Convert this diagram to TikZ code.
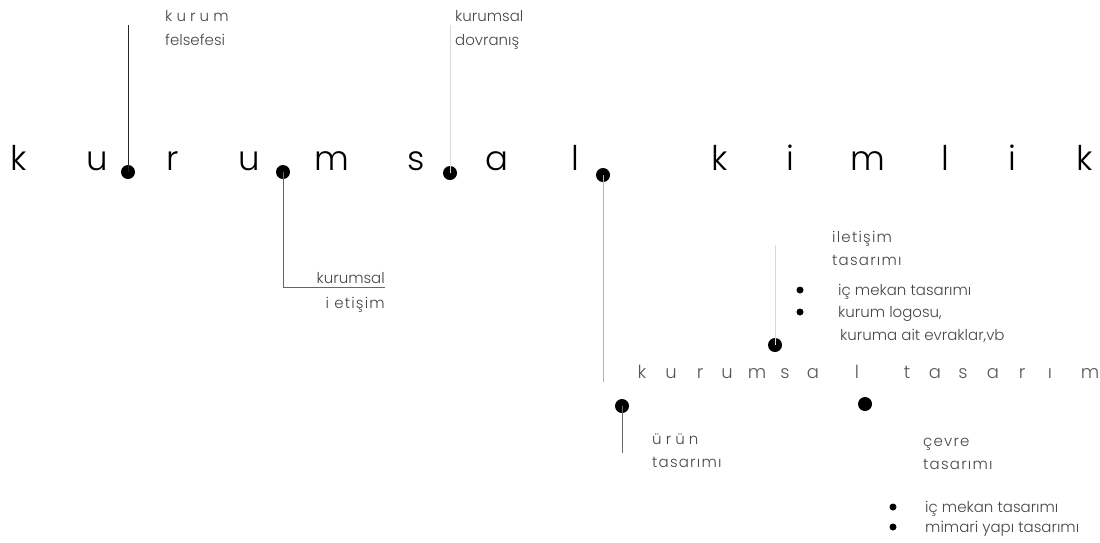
\documentclass[tikz,border=0pt]{standalone}
\usepackage{fontspec}
\setmainfont{Poppins Light}
\newfontfamily\widefont[LetterSpace=8]{Poppins Light}
\begin{document}
\begin{tikzpicture}[x=1pt,y=-1pt,
  big/.style={font=\fontsize{34}{34}\selectfont, anchor=base, text=black, inner sep=0},
  mid/.style={font=\fontsize{18}{18}\selectfont, anchor=base, text=black!65, inner sep=0},
  lbl/.style={font=\fontsize{15}{18}\selectfont, anchor=base west, text=black!72, inner sep=0},
  lble/.style={lbl, anchor=base east},
  dot/.style={circle, fill=black, inner sep=0, minimum size=14pt},
  sdot/.style={circle, fill=black, inner sep=0, minimum size=7pt},
  darkline/.style={draw=black!85, line width=1pt},
  midline/.style={draw=black!60, line width=1pt},
  paleline/.style={draw=black!15, line width=0.8pt},
  lightline/.style={draw=black!30, line width=0.8pt},
]
\useasboundingbox[fill=white] (0,0) rectangle (1100,542);

% main title
\foreach \ch/\xx [count=\i] in {k/19,u/97,r/173,u/249,m/332,s/416,a/497,l/575,k/720,i/790,m/868,l/945,i/1012,k/1085}
  \node[big] (t\i) at (\xx,170) {\ch};

% dots on the title
\node[dot] (d1) at (128,172) {};
\node[dot] (d2) at (283,172) {};
\node[dot] (d3) at (450,173) {};
\node[dot] (d4) at (603,175) {};

\coordinate (c1) at (128,25);
\coordinate (c2a) at (283,287);
\coordinate (c2b) at (385,287);
\coordinate (c3) at (450,25);
\coordinate (c4) at (603,382);

\draw[darkline] (d1.center) -- (c1);
\draw[midline] (d2.center) -- (c2a) -- (c2b);
\draw[paleline] (d3.center) -- (c3);
\draw[lightline] (d4.center) -- (c4);

% top labels
\node[lbl] (l1a) at (165,21) {k u r u m};
\node[lbl] (l1b) at (165,45) {felsefesi};
\node[lbl] (l3a) at (455,21) {kurumsal};
\node[lbl] (l3b) at (455,45) {dovranış};

% kurumsal iletişim
\node[lble] (l2a) at (385,283) {kurumsal};
\node[lble] (l2b) at (385,308) {\widefont i etişim};

% second row title
\foreach \ch/\xx [count=\i] in {k/642,u/671,r/700,u/727,m/757,s/785,a/813,l/857,t/907,a/935,s/963,a/993,r/1022,ı/1050,m/1090}
  \node[mid] (s\i) at (\xx,378) {\ch};

% iletişim tasarımı
\node[dot] (e1) at (775,345) {};
\coordinate (f1) at (775,245);
\draw[paleline] (e1.center) -- (f1);
\node[lbl] (i1) at (832,242) {\widefont iletişim};
\node[lbl] (i2) at (832,265) {\widefont tasarımı};
\node[sdot] (b1) at (800,290) {};
\node[sdot] (b2) at (800,312) {};
\node[lbl] (i3) at (838,295) {iç mekan tasarımı};
\node[lbl] (i4) at (838,317) {kurum logosu,};
\node[lbl] (i5) at (840,340) {kuruma ait evraklar,vb};

% ürün tasarımı
\node[dot] (e2) at (622,406) {};
\coordinate (f2) at (622,453);
\draw[midline] (e2.center) -- (f2);
\node[lbl] (u1) at (652,444) {ü r ü n};
\node[lbl] (u2) at (652,467) {\widefont tasarımı};

% çevre tasarımı
\node[dot] (e3) at (865,404) {};
\node[lbl] (v1) at (923,446) {\widefont çevre};
\node[lbl] (v2) at (923,469) {\widefont tasarımı};
\node[sdot] (b3) at (893,507) {};
\node[sdot] (b4) at (893,527) {};
\node[lbl] (v3) at (925,512) {iç mekan tasarımı};
\node[lbl] (v4) at (925,532) {mimari yapı tasarımı};
\end{tikzpicture}
\end{document}
